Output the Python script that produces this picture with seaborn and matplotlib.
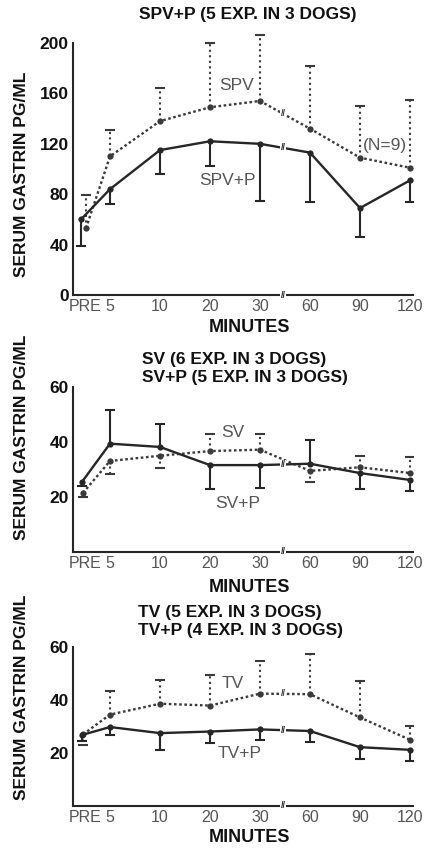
import numpy as np
import pandas as pd
import matplotlib
matplotlib.use("Agg")
import matplotlib.pyplot as plt
import seaborn as sns

# ---------------- data ----------------
minutes = ["PRE", "5", "10", "20", "30", "60", "90", "120"]

# top panel
spv = [53, 110, 138, 149, 154, 132, 109, 101]
spv_bound = [79, 131, 164, 200, 206, 182, 150, 155]
spvp = [60, 84, 115, 122, 120, 113, 69, 91]
spvp_bound = [39, 72, 96, 102, 75, 74, 46, 74]

# middle panel
sv = [21.5, 33.1, 35.0, 36.7, 37.2, 29.5, 30.8, 28.7]
sv_bound = [20.0, 28.2, 30.7, 43.0, 43.0, 25.3, 35.0, 34.5]
svp = [25.5, 39.4, 38.2, 31.6, 31.6, 32.1, 28.7, 26.2]
svp_bound = [24.0, 51.5, 46.4, 22.9, 23.4, 40.8, 22.9, 22.2]

# bottom panel
tv = [27.0, 34.5, 38.6, 37.9, 42.4, 42.2, 33.4, 25.0]
tv_bound = [23.0, 43.4, 47.6, 49.4, 54.7, 57.5, 47.3, 30.2]
tvp = [26.8, 29.8, 27.5, 28.1, 28.9, 28.3, 22.2, 21.2]
tvp_bound = [24.5, 26.7, 21.0, 23.7, 25.0, 24.0, 17.8, 16.8]

titles = [
    ["SPV+P (5 EXP. IN 3 DOGS)"],
    ["SV (6 EXP. IN 3 DOGS)", "SV+P (5 EXP. IN 3 DOGS)"],
    ["TV (5 EXP. IN 3 DOGS)", "TV+P (4 EXP. IN 3 DOGS)"],
]
yticks_list = [[0, 40, 80, 120, 160, 200], [20, 40, 60], [20, 40, 60]]
ylabel = "SERUM GASTRIN PG/ML"
xlabel = "MINUTES"

# ---------------- layout ----------------
W, H = 426, 848
fig = plt.figure(figsize=(W / 100, H / 100), dpi=100)
sns.set_theme(style="white")
plt.rcParams["font.family"] = ["Liberation Sans", "DejaVu Sans"]

tick_pos = np.array([0.5, 1, 2, 3, 4, 5, 6, 7])
xlim = (0.26, 7.06)

def px_axes(left, right, top_px, bottom_px):
    return fig.add_axes([left / W, 1 - bottom_px / H, (right - left) / W, (bottom_px - top_px) / H])

panels = [
    dict(top=30.4, bottom=295, ylim=(0, 210), spine_top=200,
         dotted=(spv, spv_bound, 0.52), solid=(spvp, spvp_bound, 0.42),
         breaks=("dotted", "solid"),
         labels=[("SPV", 3.54, 166), ("SPV+P", 3.34, 91), ("(N=9)", 6.5, 119)],
         title_xy=[(248, 15)], title_ha="center",
         ylab_y=174, xlab_y=328),
    dict(top=387, bottom=552, ylim=(0, 60), spine_top=60,
         dotted=(sv, sv_bound, 0.46), solid=(svp, svp_bound, 0.44),
         breaks=("solid",),
         labels=[("SV", 3.46, 43.3), ("SV+P", 3.56, 17.8)],
         title_xy=[(142, 359.5), (142, 377.5)], title_ha="left",
         ylab_y=437, xlab_y=587),
    dict(top=647, bottom=806, ylim=(0, 60), spine_top=60,
         dotted=(tv, tv_bound, 0.46), solid=(tvp, tvp_bound, 0.44),
         breaks=("dotted", "solid"),
         labels=[("TV", 3.46, 46.4), ("TV+P", 3.6, 20)],
         title_xy=[(138, 612.5), (138, 630.5)], title_ha="left",
         ylab_y=697, xlab_y=838),
]

dark = "#262626"
dot_col = "#3a3a3a"
gray_txt = "#555555"
x_break = 4.46
narrow = ["Liberation Sans Narrow", "Liberation Sans"]

for i, p in enumerate(panels):
    ax = px_axes(73, 73 + (xlim[1] - xlim[0]) * 50, p["top"], p["bottom"])
    ax.set_facecolor("none")
    for key, ls, col in [("dotted", (0, (1.1, 1.1)), dot_col), ("solid", "-", dark)]:
        vals, bound, pre_x = p[key]
        xs = tick_pos.copy()
        xs[0] = pre_x
        df = pd.DataFrame({"x": xs, "y": vals})
        sns.lineplot(data=df, x="x", y="y", ax=ax, color=col, linestyle=ls,
                     linewidth=1.7, marker="o", markersize=4.5,
                     markeredgewidth=0, markerfacecolor=col, legend=False)
        ax.vlines(xs, vals, bound, colors=col, linestyles=ls if ls == "-" else ":",
                  linewidth=1.5)
        ax.plot(xs, bound, linestyle="none", marker="_", markersize=7,
                markeredgewidth=1.5, color=col)
        if key in p["breaks"]:
            yb = np.interp(x_break, xs, vals)
            ax.text(x_break, yb, "//", ha="center", va="center", fontsize=6.5,
                    color=col, fontweight="bold",
                    bbox=dict(fc="white", ec="none", pad=0.3))
    ax.text(x_break, 0, "//", ha="center", va="center", fontsize=6.5,
            color=dark, fontweight="bold", clip_on=False,
            bbox=dict(fc="white", ec="none", pad=0.3), zorder=5)

    ax.set_xlim(*xlim)
    ax.set_ylim(*p["ylim"])
    ax.set_xticks(tick_pos)
    ax.set_xticklabels(minutes, fontsize=11.5, color="#555555", fontfamily=narrow)
    ax.set_yticks(yticks_list[i])
    ax.set_yticklabels([str(v) for v in yticks_list[i]], fontsize=12.5,
                       fontweight="bold", color="#111111", fontfamily=narrow)
    ax.tick_params(axis="both", direction="in", length=5, width=1.3,
                   color=dark, pad=3)
    ax.set_xlabel("")
    ax.set_ylabel("")
    for s in ["top", "right"]:
        ax.spines[s].set_visible(False)
    for s in ["left", "bottom"]:
        ax.spines[s].set_color(dark)
        ax.spines[s].set_linewidth(1.5)
    ax.spines["left"].set_bounds(0, p["spine_top"])

    for txt, x, y in p["labels"]:
        ax.text(x, y, txt, ha="center", va="center", fontsize=12.5,
                color=gray_txt)

    for line, (tx, ty) in zip(titles[i], p["title_xy"]):
        fig.text(tx / W, 1 - ty / H, line, ha=p["title_ha"], va="center",
                 fontsize=12.5, fontweight="bold", color="#111111")
    fig.text(250 / W, 1 - p["xlab_y"] / H, xlabel, ha="center", va="center",
             fontsize=13, fontweight="bold", color="#111111")
    fig.text(22 / W, 1 - p["ylab_y"] / H, ylabel, ha="center", va="center",
             rotation=90, fontsize=12.5, fontweight="bold", color="#111111")

fig.savefig("out.png", dpi=100, facecolor="white")
